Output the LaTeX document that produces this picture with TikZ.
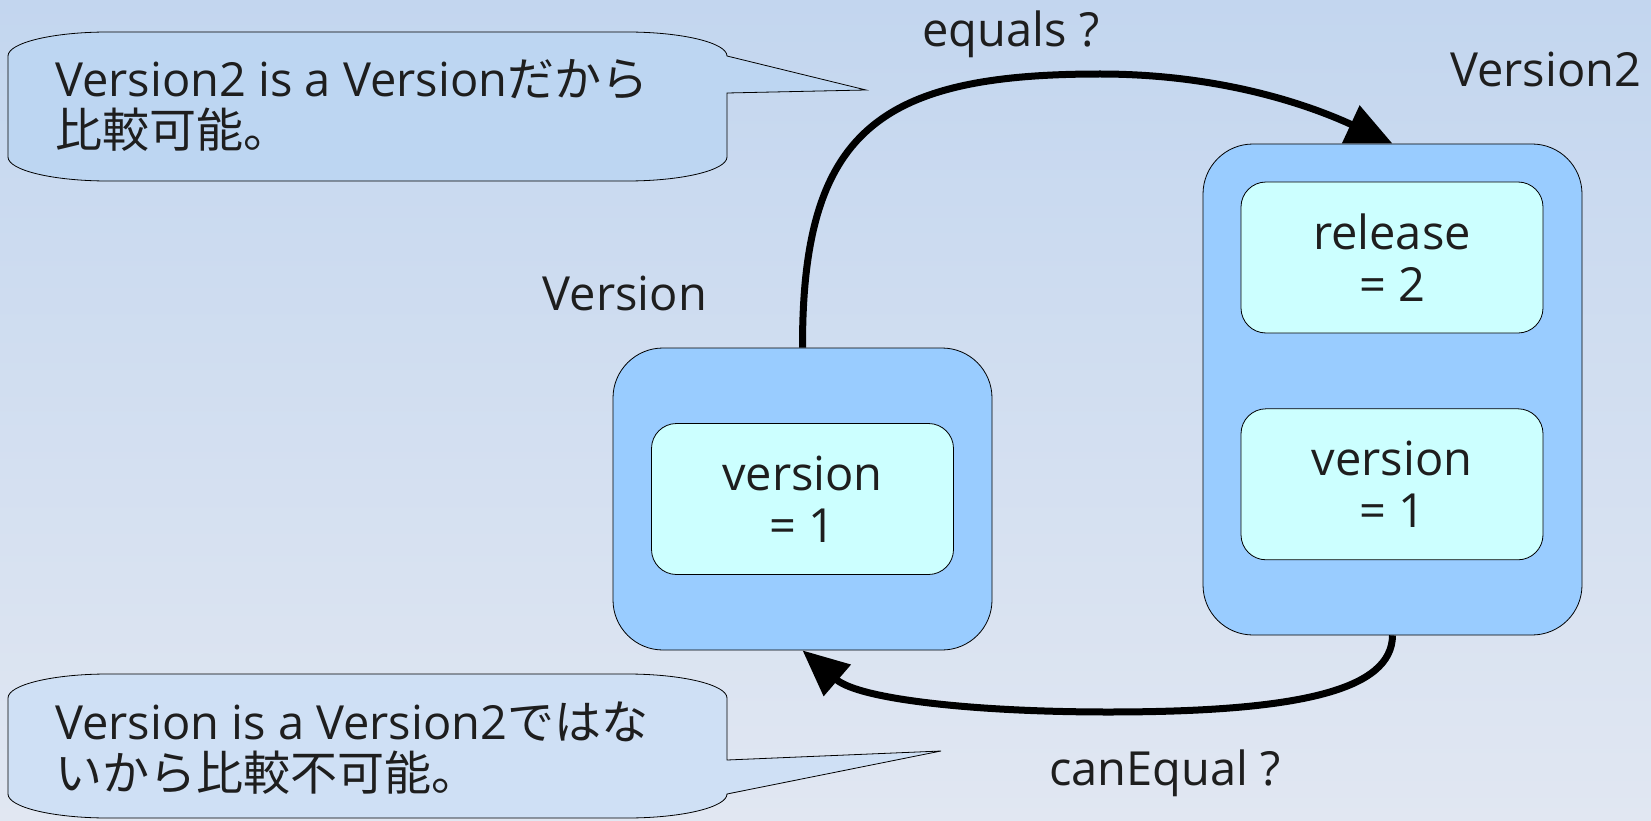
\documentclass[tikz,border=0pt]{standalone}
\usepackage{fontspec}
\setmainfont{Open Sans}
\newfontfamily\jp{Noto Sans CJK JP}
\usepackage{tikz}
\usetikzlibrary{positioning, arrows.meta}

\definecolor{bgtop}{HTML}{C3D6EF}
\definecolor{bgmid}{HTML}{DAE3F1}
\definecolor{bgbot}{HTML}{E1E7F2}
\definecolor{objblue}{HTML}{99CCFF}
\definecolor{fieldcyan}{HTML}{CCFFFF}
\definecolor{noteA}{HTML}{BDD6F2}
\definecolor{noteB}{HTML}{CFE0F5}
\definecolor{ink}{HTML}{1E1E1E}

\newcommand{\bigtext}{\fontsize{47}{51}\selectfont}

\begin{document}
\begin{tikzpicture}[x=1pt, y=-1pt,
  obj/.style={draw, line width=0.8pt, fill=objblue, rounded corners=50pt,
              minimum width=379pt, inner sep=0pt},
  field/.style={draw, line width=0.8pt, fill=fieldcyan, rounded corners=25pt,
                minimum width=302pt, minimum height=151pt, align=center,
                font=\fontsize{47}{52}\selectfont, text=ink},
  lbl/.style={font=\bigtext, text=ink, inner sep=0pt},
  note/.style={draw, line width=0.8pt},
  notetext/.style={font=\bigtext, text=ink, inner sep=0pt, align=left},
  arr/.style={-{Triangle[length=46pt, width=40pt]}, line width=7pt}
]
  \useasboundingbox (0,0) rectangle (1651,821);
  \shade[top color=bgtop, middle color=bgmid, bottom color=bgbot]
    (0,0) rectangle (1651,821);

  % speech bubbles
  \draw[note, fill=noteA] (8,56) .. controls (8,42.8) and (52.8,32) .. (108,32)
    -- (627,32) .. controls (682.2,32) and (727,42.8) .. (727,56)
    -- (866,90) -- (727,93)
    -- (727,157) .. controls (727,170.2) and (682.2,181) .. (627,181)
    -- (108,181) .. controls (52.8,181) and (8,170.2) .. (8,157) -- cycle;
  \draw[note, fill=noteB] (8,698) .. controls (8,684.8) and (52.8,674) .. (108,674)
    -- (627,674) .. controls (682.2,674) and (727,684.8) .. (727,698)
    -- (727,760) -- (941,751) -- (727,794)
    .. controls (727,807.2) and (682.2,818) .. (627,818)
    -- (108,818) .. controls (52.8,818) and (8,807.2) .. (8,794) -- cycle;
  \node[notetext, anchor=base west] (ok) at (55,148)
    {Version2 is a Version{\jp だから}\\{\jp 比較可能。}};
  \node[notetext, anchor=base west] (ng) at (55,790)
    {Version is a Version2{\jp ではな}\\{\jp いから比較不可能。}};

  % objects
  \node[obj, minimum height=302pt] (ver) at (802.5,499) {};
  \node[field] (verf) at (ver.center) {version\\= 1};
  \node[obj, minimum height=491pt] (ver2) at (1392.5,389.5) {};
  \node[field] (rel) at (1392,257.5) {release\\= 2};
  \node[field, below=75pt of rel] (ver2f) {version\\= 1};

  \node[lbl, anchor=base] (verlbl) at (625,310) {Version};
  \node[lbl, anchor=base west] (ver2lbl) at (1450,87) {Version2};
  \node[lbl, anchor=base] (eq) at (1011,47) {equals ?};
  \node[lbl, anchor=base] (ce) at (1165,785) {canEqual ?};

  \draw[arr] (ver.north) .. controls (802,130) and (880,74) .. (1100,74)
    .. controls (1230,74) and (1320,110) .. (ver2.north);
  \draw[arr] (ver2.south) .. controls (1392,690) and (1300,712) .. (1108,712)
    .. controls (980,712) and (860,700) .. (ver.south);
\end{tikzpicture}
\end{document}
